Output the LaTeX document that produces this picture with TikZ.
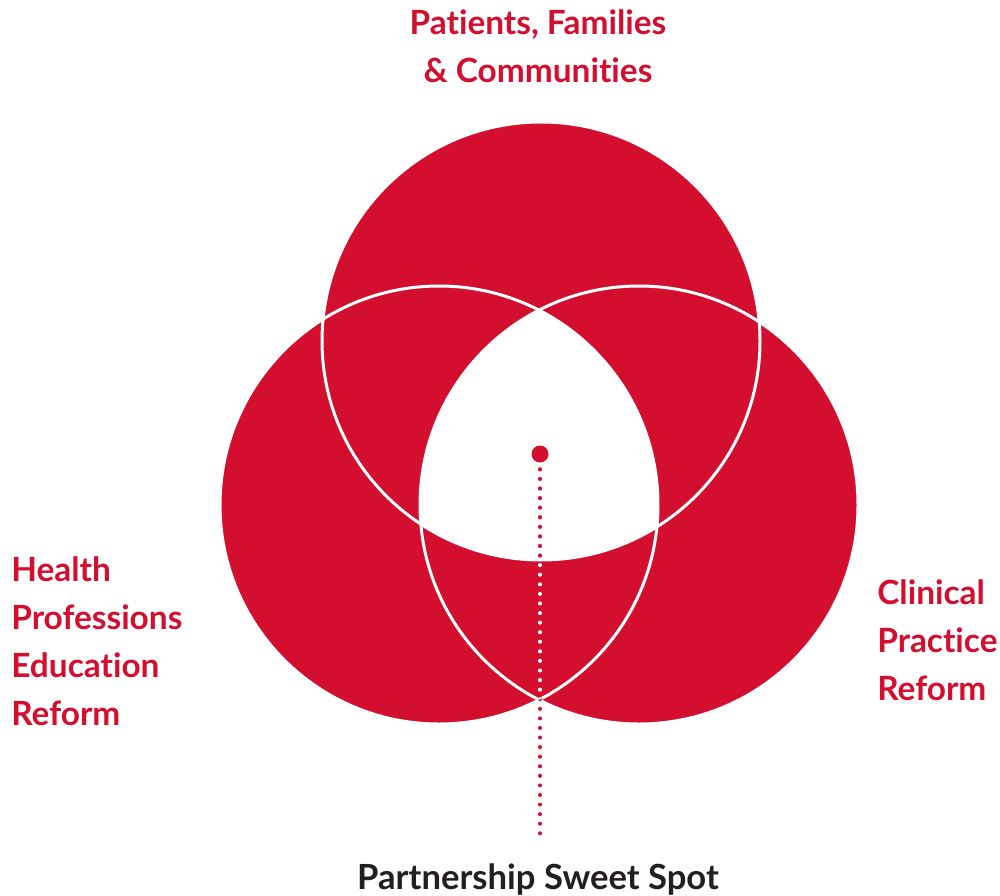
\documentclass[tikz,border=0pt]{standalone}
\usepackage{fontspec}
\setmainfont{Lato}[BoldFont={Lato Bold}, Ligatures={NoCommon}]
\definecolor{venred}{RGB}{211,14,46}
\definecolor{spotgray}{RGB}{35,31,32}
\begin{document}
\begin{tikzpicture}[x = .2mm, y = -.2mm,
		ring/.style = {white, line width = 1.7pt},
		dotline/.style = {line width = 2.3pt, line cap = round, dash pattern = on 0pt off 5.45pt},
		areatext/.style = {venred, inner sep = 0pt, font = \fontsize{19pt}{27.2pt}\selectfont\bfseries}]
	\useasboundingbox (0,0) rectangle (1000,896);
	\coordinate (top) at (541,341);
	\coordinate (left) at (439,505);
	\coordinate (right) at (639,505);
	% the three circles
	\fill[venred] (top) circle [radius = 219];
	\fill[venred] (left) circle [radius = 219];
	\fill[venred] (right) circle [radius = 219];
	% sweet spot: white where all three overlap
	\begin{scope}
		\clip (top) circle [radius = 219];
		\clip (left) circle [radius = 219];
		\fill[white] (right) circle [radius = 219];
	\end{scope}
	\draw[ring] (top) circle [radius = 219];
	\draw[ring] (left) circle [radius = 219];
	\draw[ring] (right) circle [radius = 219];
	% pointer
	\node[circle, fill = venred, inner sep = 0pt, minimum size = 3.4mm] (spot) at (540,454) {};
	\coordinate (stem) at (540,840);
	\draw[dotline, venred, shorten <= 1.3mm] (spot) -- (stem);
	\begin{scope}
		\clip (left) circle [radius = 219];
		\clip (right) circle [radius = 219];
		\draw[dotline, white, shorten <= 1.3mm] (spot) -- (stem);
	\end{scope}
	\begin{scope}
		\clip (top) circle [radius = 219];
		\draw[dotline, venred, shorten <= 1.3mm] (spot) -- (stem);
	\end{scope}
	% labels (base = last line)
	\node[areatext, align = center, anchor = base] (pfc) at (538,82) {Patients, Families\\\& Communities};
	\node[areatext, align = left, anchor = base west] (hpe) at (11,725) {Health\\Professions\\Education\\Reform};
	\node[areatext, align = left, anchor = base west] (cpr) at (877,700) {Clinical\\Practice\\Reform};
	\node[areatext, spotgray, anchor = base, font = \fontsize{19.7pt}{27.2pt}\selectfont\bfseries] (pss) at (538,889) {Partnership Sweet Spot};
\end{tikzpicture}
\end{document}
